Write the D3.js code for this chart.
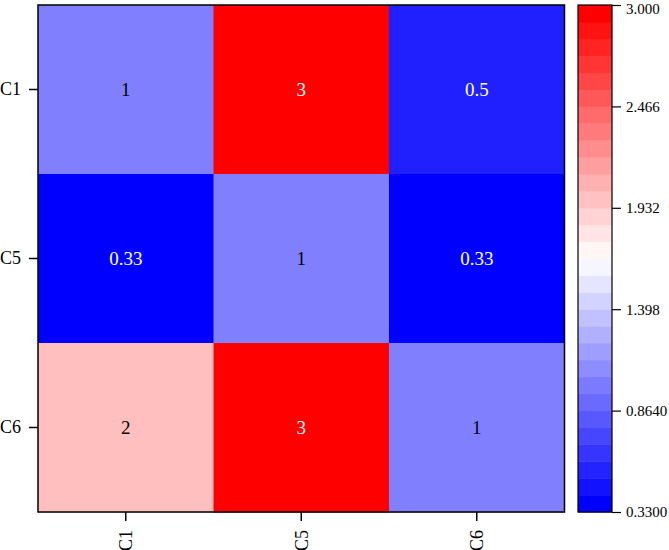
<!DOCTYPE html>
<html><head><meta charset="utf-8">
<script src="https://cdn.jsdelivr.net/npm/d3@7"></script>
<style>body{margin:0;background:#fff}svg{display:block}text{font-family:"Liberation Serif","Times New Roman",serif}</style>
</head><body><svg id="c" width="669" height="550"></svg>
<script>
const rows = ["C1", "C5", "C6"];
const cols = ["C1", "C5", "C6"];
const values = [
  [1, 3, 0.5],
  [0.33, 1, 0.33],
  [2, 3, 1]
];
const labels = [
  ["1", "3", "0.5"],
  ["0.33", "1", "0.33"],
  ["2", "3", "1"]
];
const vmin = 0.33, vmax = 3.0, nBands = 30;
const colorbarTicks = ["0.3300", "0.8640", "1.398", "1.932", "2.466", "3.000"];

const svg = d3.select("#c");
const L = 38, R = 564.5, T = 5, B = 512;
const x = d3.scaleBand().domain(cols).range([L, R]);
const y = d3.scaleBand().domain(rows).range([T, B]);
const cont = d3.scaleLinear().domain([vmin, (vmin+vmax)/2, vmax]).range(["#0000ff", "#ffffff", "#ff0000"]).interpolate(d3.interpolateRgb);
const step = (vmax - vmin) / nBands;
function isDark(v){ return v >= 2.6 || v <= 0.6; }

const cells = [];
rows.forEach((r, i) => cols.forEach((c, j) => cells.push({r, c, v: values[i][j], t: labels[i][j]})));
svg.append("g").selectAll("rect").data(cells).join("rect")
  .attr("x", d => x(d.c)).attr("y", d => y(d.r))
  .attr("width", x.bandwidth() + 0.5).attr("height", y.bandwidth() + 0.5)
  .attr("fill", d => cont(d.v));
svg.append("g").selectAll("text").data(cells).join("text")
  .attr("x", d => x(d.c) + x.bandwidth()/2).attr("y", d => y(d.r) + y.bandwidth()/2)
  .attr("text-anchor", "middle").attr("dy", "0.35em")
  .attr("font-size", 19)
  .attr("fill", d => isDark(d.v) ? "#ffffff" : "#000000")
  .text(d => d.t);

svg.append("rect").attr("x", L).attr("y", T).attr("width", R - L).attr("height", B - T)
  .attr("fill", "none").attr("stroke", "#000").attr("stroke-width", 1.5);

const yAxis = svg.append("g").attr("transform", `translate(${L},0)`)
  .call(d3.axisLeft(y).tickSize(9).tickPadding(8));
yAxis.select(".domain").remove();
yAxis.selectAll("line").attr("stroke-width", 1.5);
yAxis.selectAll("text").attr("font-size", 18).attr("fill", "#000");

const xAxis = svg.append("g").attr("transform", `translate(0,${B})`)
  .call(d3.axisBottom(x).tickSize(9).tickPadding(4));
xAxis.select(".domain").remove();
xAxis.selectAll("line").attr("stroke-width", 1.5);
xAxis.selectAll("text").attr("font-size", 18).attr("fill", "#000")
  .attr("transform", "rotate(-90)").attr("text-anchor", "end").attr("dy", "0.35em")
  .attr("x", -18).attr("y", 0);

// colorbar
const cbL = 578, cbR = 612;
const cy = d3.scaleLinear().domain([vmin, vmax]).range([B, T]);
const bands = d3.range(nBands);
svg.append("g").selectAll("rect").data(bands).join("rect")
  .attr("x", cbL).attr("width", cbR - cbL)
  .attr("y", i => cy(vmin + (i + 1) * step)).attr("height", i => cy(vmin + i * step) - cy(vmin + (i + 1) * step) + 0.5)
  .attr("fill", i => cont(vmin + (vmax - vmin) * i / (nBands - 1)));
svg.append("rect").attr("x", cbL).attr("y", T).attr("width", cbR - cbL).attr("height", B - T)
  .attr("fill", "none").attr("stroke", "#000").attr("stroke-width", 1.2);
const cbAxis = svg.append("g").attr("transform", `translate(${cbR},0)`)
  .call(d3.axisRight(cy).tickValues(colorbarTicks.map(Number)).tickFormat((d, i) => colorbarTicks[i]).tickSize(9).tickPadding(5));
cbAxis.select(".domain").remove();
cbAxis.selectAll("line").attr("stroke-width", 1.2);
cbAxis.selectAll("text").attr("font-size", 15).attr("fill", "#000")
  .attr("dy", (d, i) => i === colorbarTicks.length - 1 ? "0.55em" : "0.32em");
</script></body></html>
